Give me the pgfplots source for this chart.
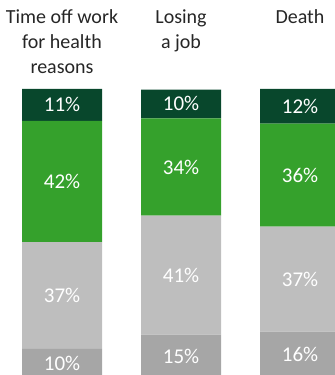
\documentclass[border=0pt]{standalone}
\usepackage{pgfplots}
\pgfplotsset{compat=1.18}
\usepackage{fontspec}
\setmainfont{Carlito}
\definecolor{dkgreen}{RGB}{8,71,44}
\definecolor{brgreen}{RGB}{53,161,44}
\definecolor{ltgray}{RGB}{190,190,190}
\definecolor{dkgray}{RGB}{166,166,166}
\definecolor{txt}{RGB}{38,38,38}
\begin{document}
\begin{tikzpicture}
\pgfplotsset{
  common/.style={
    at={(0,0)}, anchor=south west,
    scale only axis, width=335bp, height=375bp,
    xmin=-0.521, xmax=2.294, ymin=1, ymax=130.8,
    hide axis, clip=true,
  }
}
\begin{axis}[common, ybar stacked, bar width=80bp]
\addplot[fill=dkgray, draw=none] coordinates {(0,10) (1,15) (2,16)};
\addplot[fill=ltgray, draw=none] coordinates {(0,37) (1,41.2) (2,36.4)};
\addplot[fill=brgreen, draw=none] coordinates {(0,42) (1,33.6) (2,35.6)};
\addplot[fill=dkgreen, draw=none] coordinates {(0,11) (1,10) (2,12)};
\end{axis}
\begin{axis}[common]
\addplot[only marks, mark=none, point meta=explicit symbolic,
  nodes near coords, nodes near coords align={center},
  every node near coord/.append style={anchor=center, text=white, font=\fontsize{21bp}{25bp}\selectfont, inner sep=0pt}]
  table[meta=lab] {
x y lab
0 5 10\%
0 28.5 37\%
0 68 42\%
0 94.5 11\%
1 7.5 15\%
1 35.6 41\%
1 72.8 34\%
1 94.9 10\%
2 8 16\%
2 34.2 37\%
2 70.2 36\%
2 94 12\%
};
\node[anchor=north, align=center, text=txt, font=\fontsize{20bp}{25bp}\selectfont, inner sep=0pt] at (axis cs:0,127.5) {Time off work\\for health\\reasons};
\node[anchor=north, align=center, text=txt, font=\fontsize{20bp}{25bp}\selectfont, inner sep=0pt] at (axis cs:1,127.5) {Losing\\a job};
\node[anchor=north, align=center, text=txt, font=\fontsize{20bp}{25bp}\selectfont, inner sep=0pt] at (axis cs:2,127.5) {Death};
\end{axis}
\pgfresetboundingbox
\useasboundingbox (0,0) rectangle (335bp,375bp);
\end{tikzpicture}
\end{document}
